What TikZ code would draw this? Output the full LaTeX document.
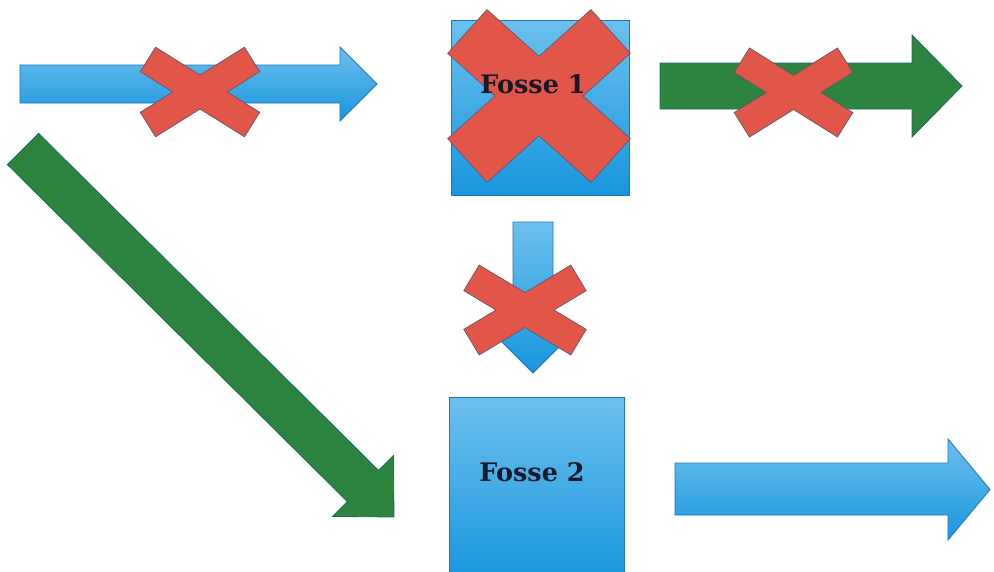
\documentclass[tikz,border=0pt]{standalone}
\usepackage{fontspec}
\setmainfont{DejaVu Serif}
\usetikzlibrary{calc}

\definecolor{bluelight}{RGB}{108,192,238}
\definecolor{bluedark}{RGB}{24,150,222}
\definecolor{blueedge}{RGB}{30,118,185}
\definecolor{greenfill}{RGB}{44,132,62}
\definecolor{greenedge}{RGB}{28,108,100}
\definecolor{redfill}{RGB}{226,86,74}
\definecolor{rededge}{RGB}{95,85,105}
\definecolor{labelink}{RGB}{24,24,38}

\tikzset{
  bluearrow/.style={top color=bluelight, bottom color=bluedark, draw=blueedge, line width=0.8pt, line join=miter},
  greenarrow/.style={fill=greenfill, draw=greenedge, line width=0.8pt, line join=miter},
  fossebox/.style={rectangle, top color=bluelight, bottom color=bluedark, draw=blueedge, line width=0.8pt, inner sep=0pt},
  fossetext/.style={font=\bfseries\fontsize{25.5}{30}\selectfont, text=labelink, inner sep=0pt},
  crossedge/.style={draw=rededge, line width=1.6pt, line join=miter},
  crossfill/.style={fill=redfill},
}

% red "not allowed" cross: centre x, centre y, bar angle, bar thickness, bar half length
\newcommand{\redcross}[5]{%
  \begin{scope}[shift={(#1,#2)}]
    \foreach \a in {#3,-#3} \draw[crossedge, rotate=\a] (-#5,-#4/2) rectangle (#5,#4/2);
    \foreach \a in {#3,-#3} \fill[crossfill, rotate=\a] (-#5,-#4/2) rectangle (#5,#4/2);
  \end{scope}}

\begin{document}
\begin{tikzpicture}[x=1pt, y=-1pt]
\useasboundingbox (0,0) rectangle (994,571);

% blocked inflow (top left)
\path[bluearrow] (20,65) -- (340,65) -- (340,47) -- (377,84) -- (340,121) -- (340,103) -- (20,103) -- cycle;
\redcross{200}{92}{32}{28}{61}

% first pit, crossed out
\node[fossebox, minimum width=178pt, minimum height=175pt] (f1) at (540,107.5) {};
\redcross{539}{96}{42}{58}{96}
\node[fossetext] (t1) at (533,84) {Fosse 1};

% blocked outflow of the first pit
\path[greenarrow] (660,63) -- (912,63) -- (912,35) -- (962,86) -- (912,137) -- (912,109) -- (660,109) -- cycle;
\redcross{793.5}{92.5}{32}{28}{60.5}

% blocked transfer between the pits
\path[bluearrow] (513,222) -- (553,222) -- (553,333) -- (573,333) -- (533,373) -- (493,333) -- (513,333) -- cycle;
\redcross{525}{310}{31}{29}{62}

% diverted inflow straight to the second pit
\path[greenarrow] (38.6,133.4) -- (378.6,470.4) -- (393.4,455.6) -- (394,517) -- (332.6,516.4) -- (347.4,501.6) -- (7.4,164.6) -- cycle;

% second pit
\node[fossebox, minimum width=175pt, minimum height=185pt] (f2) at (537,489.5) {};
\node[fossetext] (t2) at (532,472) {Fosse 2};

% outflow of the second pit
\path[bluearrow] (675,463) -- (948,463) -- (948,439) -- (990,489.5) -- (948,540) -- (948,515) -- (675,515) -- cycle;
\end{tikzpicture}
\end{document}
